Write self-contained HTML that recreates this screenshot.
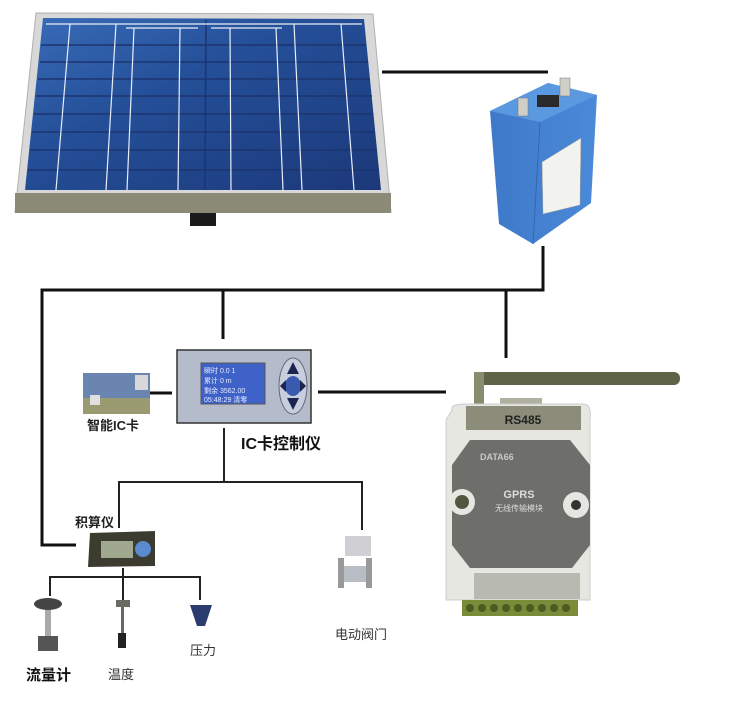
<!DOCTYPE html>
<html><head><meta charset="utf-8"><style>
html,body{margin:0;padding:0;background:#fff}
svg{display:block}
text{font-family:"Liberation Sans","Noto Sans CJK SC",sans-serif}
</style></head><body>
<svg width="738" height="727" viewBox="0 0 738 727" xmlns="http://www.w3.org/2000/svg">
<defs>
<linearGradient id="glass" x1="0" y1="0" x2="1" y2="1">
<stop offset="0" stop-color="#3a6cb8"/><stop offset="0.4" stop-color="#244f98"/><stop offset="1" stop-color="#1c387a"/>
</linearGradient>
<linearGradient id="bat" x1="0" y1="0" x2="1" y2="0">
<stop offset="0" stop-color="#3f78c8"/><stop offset="1" stop-color="#4a8ad8"/>
</linearGradient>
</defs>
<!-- Solar panel -->
<polygon points="36,13 373,14 391,212 15,212" fill="#d8d8d8" stroke="#b0b0b0"/>
<polygon points="15,193 391,193 391,213 15,213" fill="#8a8a76"/>
<polygon points="43,18 364,19 381,190 25,190" fill="url(#glass)"/>
<g stroke="#1c3470" stroke-width="1.5">
<line x1="41" y1="45" x2="366" y2="45"/><line x1="40" y1="62" x2="368" y2="62"/>
<line x1="38" y1="79" x2="370" y2="79"/><line x1="36" y1="96" x2="372" y2="96"/>
<line x1="34" y1="114" x2="373" y2="114"/><line x1="32" y1="132" x2="375" y2="132"/>
<line x1="30" y1="150" x2="377" y2="150"/><line x1="28" y1="170" x2="379" y2="170"/>
<line x1="206" y1="20" x2="205" y2="190"/>
</g>
<g stroke="#e8eef8" stroke-width="1.2">
<line x1="70" y1="24" x2="56" y2="190"/><line x1="116" y1="24" x2="106" y2="190"/>
<line x1="134" y1="28" x2="127" y2="190"/><line x1="180" y1="28" x2="178" y2="190"/>
<line x1="230" y1="28" x2="231" y2="190"/><line x1="276" y1="28" x2="283" y2="190"/>
<line x1="294" y1="24" x2="302" y2="190"/><line x1="341" y1="24" x2="354" y2="190"/>
<line x1="46" y1="24" x2="362" y2="24"/><line x1="126" y1="28" x2="198" y2="28"/><line x1="211" y1="28" x2="282" y2="28"/>
</g>
<rect x="190" y="213" width="26" height="13" fill="#1a1a1a"/>
<!-- battery -->
<line x1="382" y1="72" x2="548" y2="72" stroke="#111" stroke-width="3"/>
<polygon points="490,111 548,83 597,95 591,203 533,244 499,224" fill="url(#bat)"/>
<polygon points="490,111 548,83 597,95 540,122" fill="#5a98e0"/>
<line x1="540" y1="122" x2="533" y2="244" stroke="#3466b0" stroke-width="1"/>
<polygon points="542,162 581,138 580,205 543,214" fill="#f2f2ee" stroke="#999" stroke-width="0.5"/>
<rect x="537" y="95" width="22" height="12" fill="#2a2a2a"/>
<rect x="518" y="98" width="10" height="18" fill="#cfcfc8" stroke="#777" stroke-width="0.5"/>
<rect x="560" y="78" width="10" height="18" fill="#cfcfc8" stroke="#777" stroke-width="0.5"/>
<!-- connectors -->
<g stroke="#111" stroke-width="3" fill="none">
<polyline points="543,246 543,290 42,290 42,545 76,545"/>
<line x1="223" y1="290" x2="223" y2="339"/>
<line x1="506" y1="290" x2="506" y2="358"/>
<line x1="150" y1="393" x2="172" y2="393"/>
<line x1="318" y1="392" x2="446" y2="392"/>
</g>
<g stroke="#222" stroke-width="2" fill="none">
<polyline points="224,428 224,482"/>
<polyline points="119,528 119,482 362,482 362,530"/>
<line x1="123" y1="568" x2="123" y2="583"/>
<polyline points="50,596 50,577 200,577 200,600"/>
<line x1="123" y1="577" x2="123" y2="600"/>
</g>
<!-- IC card -->
<rect x="83" y="373" width="67" height="41" fill="#6a86b0"/>
<rect x="83" y="398" width="67" height="16" fill="#9a9a70"/>
<rect x="135" y="375" width="13" height="15" fill="#d8d8d8"/>
<rect x="90" y="395" width="10" height="10" fill="#e0e0e0"/>
<text x="87" y="430" font-size="13" fill="#222" font-weight="bold">智能IC卡</text>
<!-- IC controller -->
<rect x="177" y="350" width="134" height="73" fill="#b4bccc" stroke="#333" stroke-width="1.5"/>
<rect x="201" y="363" width="64" height="41" fill="#3f62c8" stroke="#555"/>
<g fill="#e8ecff" font-size="7">
<text x="204" y="373">瞬时  0.0  1</text><text x="204" y="383">累计    0 m</text>
<text x="204" y="393">剩余  3562.00</text><text x="204" y="402">05:48:29 清零</text>
</g>
<ellipse cx="293" cy="386" rx="14" ry="28" fill="#c8cede" stroke="#667" stroke-width="1"/>
<ellipse cx="293" cy="386" rx="8" ry="10" fill="#3a5ab0"/>
<polygon points="293,362 287,374 299,374" fill="#1b2550"/><polygon points="293,410 287,398 299,398" fill="#1b2550"/>
<polygon points="280,386 286,380 286,392" fill="#1b2550"/><polygon points="306,386 300,380 300,392" fill="#1b2550"/>
<text x="241" y="449" font-size="16" font-weight="bold" fill="#111">IC卡控制仪</text>
<!-- integrator -->
<text x="75" y="527" font-size="13" font-weight="bold" fill="#222">积算仪</text>
<polygon points="90,533 155,531 155,566 88,567" fill="#3b3b30"/>
<rect x="101" y="541" width="32" height="17" fill="#a0a890"/>
<circle cx="143" cy="549" r="8" fill="#5a8ad0"/>
<!-- sensors -->
<ellipse cx="48" cy="604" rx="14" ry="6" fill="#444"/>
<rect x="45" y="610" width="6" height="28" fill="#aaa"/>
<rect x="38" y="636" width="20" height="15" fill="#555"/>
<text x="26" y="680" font-size="15" font-weight="bold" fill="#111">流量计</text>
<rect x="116" y="600" width="14" height="7" fill="#6a6a60"/>
<rect x="121" y="607" width="3" height="26" fill="#666"/>
<rect x="118" y="633" width="8" height="15" fill="#222"/>
<text x="108" y="679" font-size="13" fill="#333">温度</text>
<polygon points="190,605 212,605 205,626 197,626" fill="#2b3c70"/>
<text x="190" y="655" font-size="13" fill="#333">压力</text>
<!-- valve -->
<rect x="345" y="536" width="26" height="20" fill="#d0d0d4"/>
<rect x="340" y="566" width="30" height="16" fill="#b8bcc4"/>
<rect x="338" y="558" width="6" height="30" fill="#999"/><rect x="366" y="558" width="6" height="30" fill="#999"/>
<text x="335" y="639" font-size="13" fill="#333">电动阀门</text>
<!-- GPRS module -->
<rect x="474" y="372" width="206" height="13" rx="6" fill="#5f6448"/>
<rect x="474" y="372" width="10" height="38" fill="#8a8c70"/>
<rect x="500" y="398" width="42" height="10" fill="#b0b0a0"/>
<path d="M452,410 Q450,404 466,404 L583,404 Q592,404 590,420 L590,600 L446,600 L446,420 Z" fill="#e6e7e0" stroke="#ccc"/>
<rect x="466" y="406" width="115" height="24" fill="#8b8c7a"/>
<text x="523" y="424" font-size="12" font-weight="bold" fill="#222" text-anchor="middle">RS485</text>
<polygon points="470,440 570,440 590,465 590,545 572,568 470,568 452,545 452,465" fill="#6e6f6a"/>
<circle cx="462" cy="502" r="13" fill="#e6e7e0"/><circle cx="462" cy="502" r="7" fill="#555640"/>
<circle cx="576" cy="505" r="13" fill="#e6e7e0"/><circle cx="576" cy="505" r="5" fill="#333"/>
<text x="480" y="460" font-size="9" font-weight="bold" fill="#c8c8c8">DATA66</text>
<text x="519" y="498" font-size="11" font-weight="bold" fill="#dcdcdc" text-anchor="middle">GPRS</text>
<text x="519" y="511" font-size="8" fill="#dcdcdc" text-anchor="middle">无线传输模块</text>
<rect x="474" y="573" width="106" height="26" fill="#b8b9b0"/>
<rect x="462" y="600" width="116" height="16" fill="#7a8c3a"/>
<g fill="#4a5a20"><circle cx="470" cy="608" r="4"/><circle cx="482" cy="608" r="4"/><circle cx="494" cy="608" r="4"/><circle cx="506" cy="608" r="4"/><circle cx="518" cy="608" r="4"/><circle cx="530" cy="608" r="4"/><circle cx="542" cy="608" r="4"/><circle cx="554" cy="608" r="4"/><circle cx="566" cy="608" r="4"/></g>
</svg>
</body></html>
